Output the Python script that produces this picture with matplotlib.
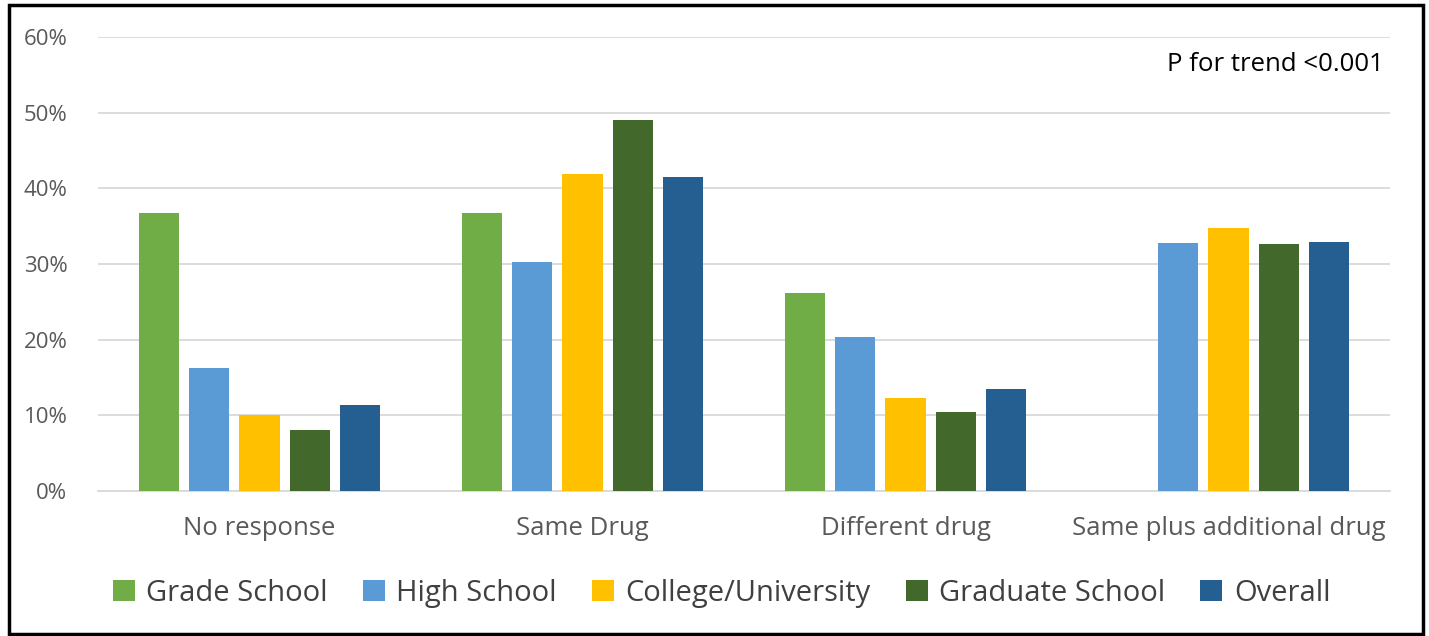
import numpy as np
import matplotlib
matplotlib.use('Agg')
import matplotlib.pyplot as plt
from matplotlib.patches import Rectangle
from matplotlib.ticker import PercentFormatter

categories = ['No response', 'Same Drug', 'Different drug', 'Same plus additional drug']
series = ['Grade School', 'High School', 'College/University', 'Graduate School', 'Overall']
grade_school = [36.8, 36.8, 26.2, 0.0]
high_school = [16.3, 30.2, 20.4, 32.8]
college = [10.1, 41.9, 12.3, 34.7]
graduate = [8.0, 49.0, 10.5, 32.6]
overall = [11.4, 41.5, 13.5, 32.9]
colors = ['#70AD47', '#5B9BD5', '#FFC000', '#43682B', '#255E91']

plt.rcParams['font.family'] = ['Open Sans', 'DejaVu Sans']

fig = plt.figure(figsize=(14.29, 6.36), dpi=100)
ax = fig.add_axes([0.0686, 0.228, 0.9041, 0.7138])

x = np.arange(len(categories))
pitch = 0.155
width = 0.124
values = [grade_school, high_school, college, graduate, overall]
for i, (name, vals, c) in enumerate(zip(series, values, colors)):
    ax.bar(x + (i - 2) * pitch, vals, width, color=c, label=name, zorder=3)

ax.set_xlim(-0.5, len(categories) - 0.5)
ax.set_ylim(0, 60)
ax.set_yticks(np.arange(0, 61, 10))
ax.yaxis.set_major_formatter(PercentFormatter(decimals=0))
ax.set_xticks(x)
ax.set_xticklabels(categories)
ax.grid(axis='y', color='#D9D9D9', linewidth=1.3, zorder=0)
for s in ['top', 'right', 'left']:
    ax.spines[s].set_visible(False)
ax.spines['bottom'].set_color('#D9D9D9')
ax.spines['bottom'].set_linewidth(1.3)
ax.tick_params(axis='both', length=0, colors='#595959', labelsize=16)
ax.tick_params(axis='x', labelsize=18.5, pad=18)
ax.tick_params(axis='y', pad=22)

ax.text(0.995, 0.94, 'P for trend <0.001', transform=ax.transAxes,
        ha='right', va='center', fontsize=18.5, color='black')

fig.legend(loc='center', bbox_to_anchor=(0.505, 0.067), ncol=5, frameon=False,
           fontsize=21, handlelength=0.75, handleheight=0.75,
           columnspacing=1.2, handletextpad=0.4, labelcolor='#404040')

fig.patches.append(Rectangle((0.0063, 0.003), 0.9895, 0.989, transform=fig.transFigure,
                             fill=False, edgecolor='black', linewidth=2.5))

fig.savefig('out.png', dpi=100)
